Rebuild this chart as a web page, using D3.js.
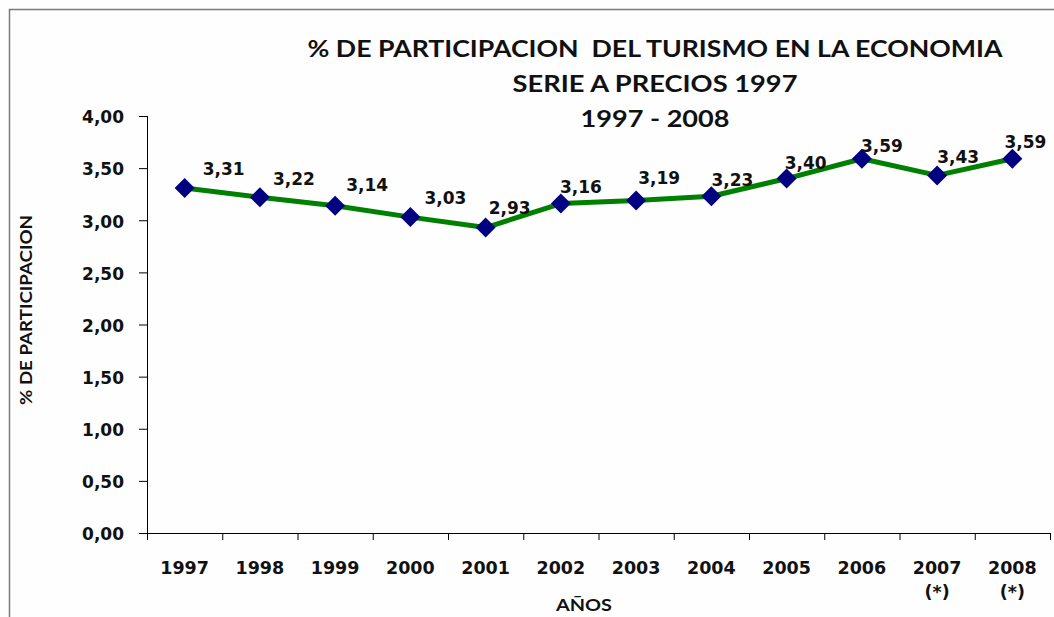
<!DOCTYPE html>
<html>
<head>
<meta charset="utf-8">
<script src="https://cdn.jsdelivr.net/npm/d3@7"></script>
<style>
  html, body { margin: 0; padding: 0; background: #fefefe; }
  svg { display: block; }
  text { white-space: pre; }
</style>
</head>
<body>
<script>
// ---- data ----
const years = ["1997","1998","1999","2000","2001","2002","2003","2004","2005","2006","2007","2008"];
const yearNotes = ["","","","","","","","","","","(*)","(*)"];
const values = [3.31, 3.22, 3.14, 3.03, 2.93, 3.16, 3.19, 3.23, 3.40, 3.59, 3.43, 3.59];
const yTicks = [0, 0.5, 1, 1.5, 2, 2.5, 3, 3.5, 4];
const titleLines = ["% DE PARTICIPACION  DEL TURISMO EN LA ECONOMIA", "SERIE A PRECIOS 1997", "1997 - 2008"];
const yTitle = "% DE PARTICIPACION";
const xTitle = "AÑOS";
// label placement offsets (style)
const labelDx = [18, 13, 11, 14, 3, -1, 2, 0, -2, -1, 0, -8];
const labelDy = [-13, -12, -15, -13, -14, -11, -16, -10, -10, -7, -12, -11];

const W = 1054, H = 617;
const m = {left: 147, right: 1050, top: 116, bottom: 533};

const svg = d3.select("body").append("svg").attr("width", W).attr("height", H);

svg.append("rect").attr("x", 9.5).attr("y", 9.5).attr("width", 1060).attr("height", 700)
  .attr("fill", "#fefefe").attr("stroke", "#7a7a7a").attr("stroke-width", 1.5);

const x = d3.scaleBand().domain(years).range([m.left, m.right]).paddingInner(0).paddingOuter(0);
const xIdx = d3.scaleLinear().domain([0, years.length]).range([m.left, m.right]);
const y = d3.scaleLinear().domain([0, 4]).range([m.bottom, m.top]);

const numFont = "'DejaVu Sans', Verdana, sans-serif";
const titleFont = "Lato, 'Open Sans', sans-serif";

// y axis
const yAxis = svg.append("g").attr("transform", `translate(${m.left},0)`)
  .call(d3.axisLeft(y).tickValues(yTicks).tickSize(8).tickPadding(15)
    .tickFormat(d => d.toFixed(2).replace(".", ",")));
yAxis.select(".domain").attr("stroke", "#000").attr("d", `M0.5,${m.top}V${m.bottom}`);
yAxis.selectAll(".tick line").attr("stroke", "#000");
yAxis.selectAll(".tick text").attr("font-family", numFont).attr("font-weight", "bold")
  .attr("font-size", 17).attr("fill", "#111").attr("dy", "0.4em");

// x axis (boundary ticks)
const xAxis = svg.append("g").attr("transform", `translate(0,${m.bottom})`)
  .call(d3.axisBottom(xIdx).tickValues(d3.range(years.length + 1)).tickSize(7).tickFormat(""));
xAxis.select(".domain").attr("stroke", "#000").attr("d", `M${m.left},0.5H${m.right}`);
xAxis.selectAll(".tick line").attr("stroke", "#000");

// x labels
svg.append("g").selectAll("text").data(years).join("text")
  .attr("x", d => x(d) + x.bandwidth() / 2)
  .attr("y", 574)
  .attr("text-anchor", "middle")
  .attr("font-family", numFont).attr("font-weight", "bold").attr("font-size", 17.5).attr("fill", "#111")
  .text(d => d);
svg.append("g").selectAll("text").data(years.map((d, i) => ({y: d, n: yearNotes[i]})).filter(d => d.n))
  .join("text")
  .attr("x", d => x(d.y) + x.bandwidth() / 2)
  .attr("y", 598)
  .attr("text-anchor", "middle")
  .attr("font-family", numFont).attr("font-weight", "bold").attr("font-size", 17.5).attr("fill", "#111")
  .text(d => d.n);

// line
const line = d3.line().x((d, i) => x(years[i]) + x.bandwidth() / 2).y(d => y(d));
svg.append("path").datum(values).attr("d", line)
  .attr("fill", "none").attr("stroke", "#008000").attr("stroke-width", 5).attr("stroke-linejoin", "round");

// markers
svg.append("g").selectAll("path").data(values).join("path")
  .attr("d", d3.symbol(d3.symbolSquare, 200))
  .attr("transform", (d, i) => `translate(${x(years[i]) + x.bandwidth() / 2},${y(d)}) rotate(45)`)
  .attr("fill", "#000080");

// data labels
svg.append("g").selectAll("text").data(values).join("text")
  .attr("x", (d, i) => x(years[i]) + x.bandwidth() / 2 + labelDx[i])
  .attr("y", (d, i) => y(d) + labelDy[i])
  .attr("font-family", numFont).attr("font-weight", "bold").attr("font-size", 17).attr("fill", "#111")
  .text(d => d.toFixed(2).replace(".", ","));

// title
const titleBase = [57, 92, 127];
const titleWidths = [695, 285, 149];
titleLines.forEach((t, i) => {
  svg.append("text").attr("x", 655).attr("y", titleBase[i]).attr("text-anchor", "middle")
    .attr("font-family", titleFont).attr("font-weight", "bold").attr("font-size", 23).attr("fill", "#111")
    .attr("textLength", titleWidths[i]).attr("lengthAdjust", "spacingAndGlyphs")
    .text(t);
});

// axis titles
svg.append("text").attr("transform", "translate(32,310) rotate(-90)").attr("text-anchor", "middle")
  .attr("font-family", titleFont).attr("font-weight", "bold").attr("font-size", 17).attr("fill", "#111")
  .attr("textLength", 190).attr("lengthAdjust", "spacingAndGlyphs")
  .text(yTitle);
svg.append("text").attr("x", 584).attr("y", 611).attr("text-anchor", "middle")
  .attr("font-family", titleFont).attr("font-weight", "bold").attr("font-size", 17).attr("fill", "#111")
  .attr("textLength", 56).attr("lengthAdjust", "spacingAndGlyphs")
  .text(xTitle);
</script>
</body>
</html>
